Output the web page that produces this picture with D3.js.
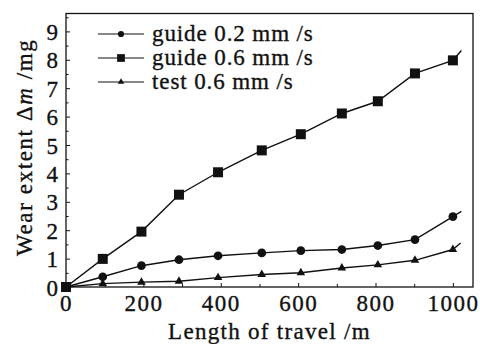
<!DOCTYPE html>
<html>
<head>
<meta charset="utf-8">
<script src="https://cdn.jsdelivr.net/npm/d3@7"></script>
<style>
  body { margin: 0; background: #fff; }
  svg { display: block; }
  svg text { fill: #111; stroke: #111; stroke-width: 0.35px; }
</style>
</head>
<body>
<svg id="chart" width="480" height="344"></svg>
<script>
// travel length (m), shared by the three series
const lengths = [0, 95, 195, 292, 393, 506, 607, 713, 806, 902, 1000];
const guide02 = [0, 0.36, 0.75, 0.96, 1.1, 1.2, 1.28, 1.32, 1.46, 1.67, 2.48];
const guide06 = [0, 0.99, 1.95, 3.25, 4.04, 4.81, 5.38, 6.11, 6.54, 7.52, 7.98];
const test06 = [0, 0.12, 0.17, 0.2, 0.33, 0.44, 0.5, 0.67, 0.78, 0.94, 1.32];
// where each drawn line runs on past the last marker
const lineEndX = [1022, 1022, 1020];
const lineEndY = [2.66, 8.33, 1.55];
const seriesNames = ['guide 0.2 mm /s', 'guide 0.6 mm /s', 'test 0.6 mm /s'];
const seriesMarks = ['circle', 'square', 'triangle'];
const xTicks = [0, 200, 400, 600, 800, 1000];
const yTicks = [0, 1, 2, 3, 4, 5, 6, 7, 8, 9];

const svg = d3.select('#chart');
const margin = { left: 66, top: 13.5, right: 7, bottom: 57 };
const W = 480, H = 344;
const FONT = 'Liberation Serif';

const x = d3.scaleLinear().domain([0, 1052]).range([margin.left, W - margin.right]);
const y = d3.scaleLinear().domain([0, 9.63]).range([H - margin.bottom, margin.top]);

const all = [guide02, guide06, test06];

// frame
svg.append('rect')
  .attr('x', x(0)).attr('y', y(9.63))
  .attr('width', x(1052) - x(0)).attr('height', y(0) - y(9.63))
  .attr('fill', 'none').attr('stroke', '#111').attr('stroke-width', 1.3);

// axes, ticks inside
const xAxis = d3.axisBottom(x).tickValues(xTicks).tickSize(-4).tickPadding(8).tickFormat(d3.format('d'));
const gx = svg.append('g').attr('transform', `translate(0,${y(0)})`).call(xAxis);
gx.select('.domain').remove();
gx.attr('font-family', FONT).attr('font-size', 23);
gx.selectAll('.tick text').attr('dy', '0.7em').attr('letter-spacing', 1.5);

const gxm = svg.append('g').attr('transform', `translate(0,${y(0)})`)
  .call(d3.axisBottom(x).tickValues(d3.range(100, 1001, 200)).tickSize(-3).tickFormat(''));
gxm.select('.domain').remove();

const yAxis = d3.axisLeft(y).tickValues(yTicks).tickSize(-4).tickPadding(8);
const gy = svg.append('g').attr('transform', `translate(${x(0)},0)`).call(yAxis);
gy.select('.domain').remove();
gy.attr('font-family', FONT).attr('font-size', 23);
gy.selectAll('.tick text').attr('dy', '0.35em');
gy.selectAll('.tick').filter(d => d === 0).select('line').remove();

const gym = svg.append('g').attr('transform', `translate(${x(0)},0)`)
  .call(d3.axisLeft(y).tickValues(d3.range(0.5, 9.6, 1)).tickSize(-2.5).tickFormat(''));
gym.select('.domain').remove();

svg.selectAll('.tick line').attr('stroke', '#111').attr('stroke-width', 1);

// lines
const line = d3.line().x(d => x(d[0])).y(d => y(d[1]));
all.forEach((vals, i) => {
  const pts = lengths.map((l, j) => [l, vals[j]]);
  pts.push([lineEndX[i], lineEndY[i]]);
  svg.append('path')
    .datum(pts)
    .attr('d', line)
    .attr('fill', 'none')
    .attr('stroke', '#111')
    .attr('stroke-width', 1.4);
});

// markers
const symbolFor = { circle: d3.symbolCircle, square: d3.symbolSquare, triangle: d3.symbolTriangle };
const sizeFor = { circle: 60, square: 100, triangle: 32 };
all.forEach((vals, i) => {
  const kind = seriesMarks[i];
  svg.append('g')
    .selectAll('path')
    .data(lengths.map((l, j) => [l, vals[j]]))
    .join('path')
    .attr('transform', d => `translate(${x(d[0])},${y(d[1])})`)
    .attr('d', d3.symbol().type(symbolFor[kind]).size(sizeFor[kind]))
    .attr('fill', '#111');
});

// legend
const legend = svg.append('g').attr('font-family', FONT);
const legSize = { circle: 30, square: 60, triangle: 18 };
seriesNames.forEach((name, i) => {
  const ly = 34 + i * 24;
  legend.append('line')
    .attr('x1', 98).attr('x2', 144).attr('y1', ly).attr('y2', ly)
    .attr('stroke', '#111').attr('stroke-width', 1.2);
  legend.append('path')
    .attr('transform', `translate(121,${ly})`)
    .attr('d', d3.symbol().type(symbolFor[seriesMarks[i]]).size(legSize[seriesMarks[i]]))
    .attr('fill', '#111');
  legend.append('text')
    .attr('x', 152).attr('y', ly).attr('dy', '0.32em')
    .attr('font-size', 23).attr('letter-spacing', 0.9)
    .text(name);
});

// axis titles
svg.append('text')
  .attr('x', (x(0) + x(1052)) / 2).attr('y', 339)
  .attr('text-anchor', 'middle').attr('font-family', FONT).attr('font-size', 23).attr('letter-spacing', 1.3)
  .text('Length of travel /m');

const yt = svg.append('text')
  .attr('transform', `translate(32,${(y(0) + y(9.63)) / 2 - 3}) rotate(-90)`)
  .attr('text-anchor', 'middle').attr('font-family', FONT).attr('font-size', 23).attr('letter-spacing', 1.6);
yt.append('tspan').text('Wear extent Δ');
yt.append('tspan').attr('font-style', 'italic').text('m');
yt.append('tspan').text(' /mg');
</script>
</body>
</html>
